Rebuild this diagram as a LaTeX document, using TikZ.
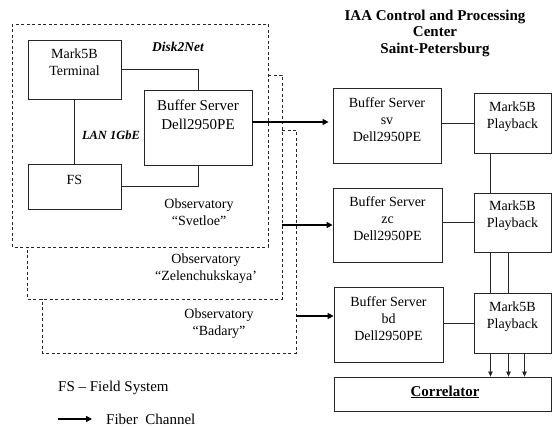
\documentclass[tikz,border=0pt]{standalone}
\usepackage{fontspec}
\setmainfont{Liberation Serif}
\usetikzlibrary{arrows.meta,positioning}

\begin{document}
\begin{tikzpicture}[x=1pt,y=-1pt,
  box/.style={draw=black!85,line width=0.8pt,inner sep=0pt},
  obsbox/.style={draw=black!85,line width=0.7pt,dash pattern=on 3pt off 2.5pt},
  link/.style={draw=black!85,line width=0.8pt},
  fiber/.style={line width=1.6pt,-{Triangle[length=6pt,width=6pt]}},
  txt/.style={font=\fontsize{14}{17}\selectfont,align=center,inner sep=0pt}]
  \useasboundingbox (0,0) rectangle (552,427);

  \draw[obsbox] (12,24) rectangle (268,247);
  \draw[obsbox] (268,75) -- (282,75) -- (282,299) -- (27,299) -- (27,247);
  \draw[obsbox] (282,130) -- (296,130) -- (296,353) -- (42,353) -- (42,299);
  \coordinate (zel) at (282,225);
  \coordinate (bad) at (296,316);

  \node[box,minimum width=93pt,minimum height=59pt] (term) at (74.5,69.5) {};
  \node[box,minimum width=108pt,minimum height=75pt] (bsl) at (198,127.5) {};
  \node[box,minimum width=93pt,minimum height=45pt] (fs) at (74.5,186.5) {};
  \node[txt] (termtxt) at (74.5,62) {Mark5B\\Terminal};
  \node[txt,font=\fontsize{15}{19}\selectfont] (bsltxt) at (198,115) {Buffer Server\\Dell2950PE};
  \node[txt] (fstxt) at (74.5,180) {FS};

  \node[box,minimum width=108pt,minimum height=75pt] (bssv) at (387,125.5) {};
  \node[box,minimum width=109pt,minimum height=74pt] (bszc) at (387.5,225) {};
  \node[box,minimum width=109pt,minimum height=75pt] (bsbd) at (388.5,324.5) {};
  \node[txt] (bssvtxt) at (387,120) {Buffer Server\\sv\\Dell2950PE};
  \node[txt] (bszctxt) at (387.5,219) {Buffer Server\\zc\\Dell2950PE};
  \node[txt] (bsbdtxt) at (388.5,318.5) {Buffer Server\\bd\\Dell2950PE};

  \node[box,minimum width=77pt,minimum height=60pt] (pb1) at (512.5,123) {};
  \node[box,minimum width=77pt,minimum height=59pt] (pb2) at (512.5,222.5) {};
  \node[box,minimum width=77pt,minimum height=60pt] (pb3) at (512.5,323) {};
  \node[txt] (pb1txt) at (512.5,117) {Mark5B\\Playback};
  \node[txt] (pb2txt) at (512.5,216) {Mark5B\\Playback};
  \node[txt] (pb3txt) at (512.5,317) {Mark5B\\Playback};

  \node[box,minimum width=217pt,minimum height=34pt] (corr) at (442.5,394) {};
  \node[txt,font=\fontsize{15}{17}\selectfont\bfseries] (corrtxt) at (445,392) {\underline{Correlator}};

  \draw[link] (term) -| (bsl);
  \draw[link] (term) -- (fs);
  \draw[link] (fs) -| (bsl);

  \draw[fiber,shorten >=4pt] ([yshift=5.5pt]bsl.east) -- ([yshift=3.5pt]bssv.west);
  \draw[fiber] (zel) -- (bszc);
  \draw[fiber] (bad) -- (bad -| bsbd.west);

  \draw[link] (bssv.east |- pb1) -- (pb1);
  \draw[link] (bszc.east |- pb2) -- (pb2);
  \draw[link] (bsbd.east |- pb3) -- (pb3);

  \draw[link] ([xshift=-22pt]pb1.south) -- ([xshift=-22pt]pb2.north);
  \foreach \dx in {-22,-4}
    \draw[link] ([xshift=\dx pt]pb2.south) -- ([xshift=\dx pt]pb3.north);
  \foreach \a/\b in {-22/48,-4/66,12/82}
    \draw[link,-{Triangle[length=5pt,width=4.5pt]}] ([xshift=\a pt]pb3.south) -- ([xshift=\b pt]corr.north);

  \node[txt,font=\fontsize{13.5}{16}\selectfont\bfseries\itshape] (d2n) at (178,47) {Disk2Net};
  \node[txt,font=\fontsize{12.5}{15}\selectfont\bfseries\itshape] (lan) at (111,135) {LAN 1GbE};
  \node[txt] (svet) at (199,212) {Observatory\\“Svetloe”};
  \node[txt] (zelen) at (206,269) {Observatory\\“Zelenchukskaya’};
  \node[txt] (bada) at (219,324) {Observatory\\“Badary”};

  \node[txt,font=\fontsize{15}{16.5}\selectfont\bfseries] (title) at (435,33) {IAA Control and Processing\\Center\\Saint-Petersburg};

  \node[txt,anchor=west,font=\fontsize{15}{17}\selectfont] (fsleg) at (58,388) {FS – Field System};
  \coordinate (legA) at (58,419);
  \coordinate (legB) at (92,419);
  \draw[fiber] (legA) -- (legB);
  \node[txt,anchor=west,font=\fontsize{15}{17}\selectfont] (fcleg) at (106,419) {Fiber~ Channel};
\end{tikzpicture}
\end{document}
